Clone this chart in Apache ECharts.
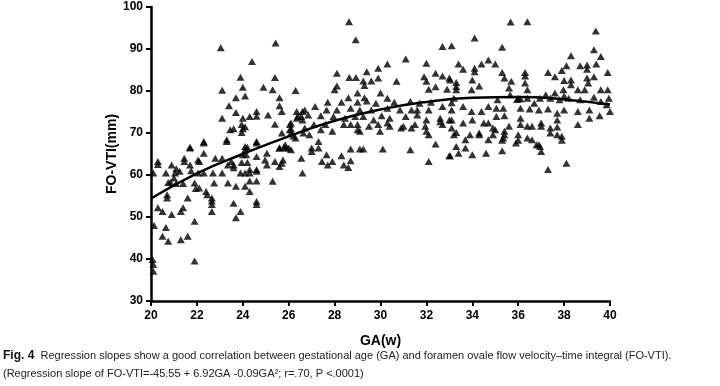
<!DOCTYPE html>
<html>
<head>
<meta charset="utf-8">
<script src="https://cdn.jsdelivr.net/npm/echarts@6/dist/echarts.min.js"></script>
<style>
html,body{margin:0;padding:0;background:#fff;}
#c{width:720px;height:386px;}
</style>
</head>
<body>
<div id="c"></div>
<script>
// Gestational age (weeks) of each observation
const gaX = [
20.1,20.3,20.3,20.13,20.07,20.1,20.1,20.3,20.5,20.5,20.65,20.75,20.65,20.7,20.7,20.9,20.9,20.75,20.85,21.05,21.1,21.25,21,21.1,21.3,21.4,21.3,21.6,21.45,21.45,21.4,21.6,21.7,21.7,21.75,21.9,21.9,21.9,21.95,22.05,22.1,22.05,22.1,22.3,22.3,22.3,22.4,22.45,22.65,22.65,22.65,22.65,22.7,22.75,22.8,23.1,23.1,23.3,23.35,23.35,23.5,23.6,23.6,23.6,23.7,23.9,23.7,23.9,23.95,24,24.1,24.1,24.1,24.1,24.15,24.2,24.3,24.3,24.3,24.3,24.6,24.6,24.6,24.6,24.6,24.6,24.6,24.97,25.05,25.05,25.3,25.4,25.6,25.7,25.75,25.9,26.1,26.55,26.6,27,27,27.3,27.3,27.45,27.65,27.7,
23.04,25.43,24.4,23.9,25.4,24,23.1,24.9,25.3,26.3,23.7,24.1,25.6,23.4,25.6,25.7,23.7,23.1,24.6,24.6,25.1,24,24.3,26.35,26.4,26.6,23.45,23.6,23.95,24,23.95,24.1,25.4,26.05,26.1,26.2,23.3,21.7,22.3,24.6,24.2,25.6,25.8,26,
28.63,28.92,32.7,33.1,31.1,30.3,32,28.1,29.9,29.4,28.64,28.93,29.25,29.6,29.9,30.7,32.4,32.7,33,31.9,32,28.1,28,29.3,32.1,32.4,32.9,29,30,28.6,29.3,30.3,28.3,27.7,29,29.4,29.8,30.6,31.3,31.7,32.2,32.7,27.15,26.7,27.65,28.1,28.7,29.1,29.6,30.3,30.85,31.35,31.6,32.1,33.1,26.85,27.4,27.95,28.45,28.9,29.25,29.7,30.05,30.4,31.1,31.6,32,32.6,33,26.6,27.1,27.6,28.4,29,29.5,29.9,30.3,31,31.5,31.95,32.7,26.7,27.4,27.9,29.1,29.98,30.9,31.35,32,33.1,
26.64,26.9,27.9,28.3,28.7,29.1,29.25,28.7,28.4,28.6,30.1,31.3,32.1,32.4,33,28.7,29,30.4,32.6,33.2,32.1,
35.67,36.4,39.38,34.1,35.3,39.3,38.3,39.6,34.7,33.4,34.4,35,33.6,34.1,34.1,35.3,36.3,37.3,37.9,38.1,38.7,39,39,39.4,39.9,33.03,34,34.3,35.4,35.7,36.3,36.3,37.6,38,38.3,38.3,39,39.3,39.05,33.3,33.3,33.3,33.97,35.6,36,36.4,36.4,37.2,37.6,37.97,38,38.2,38.6,38.7,38.9,39.6,39.9,39.95,39.6,39.3,39.85,37.8,37.4,36.95,36.7,36.1,35.95,35.65,35.1,33.2,33.1,33.6,33.97,34.4,34.7,35.05,35.35,35.4,35.05,36.1,36.5,36.9,37.3,37.7,38,38.6,39.1,39.1,39.55,40,37.7,37.7,38.6,33.1,33.6,34,34.5,34.7,34.9,35.6,36.1,36.1,36.6,37,37,37.4,33.3,33.9,34.3,34.9,35.4,36,36.4,37.7,
33.7,34.3,34.7,35,35.4,35.35,36.4,36.6,36.9,36.95,37,37.4,37.9,33.3,33.7,34,33.4,34.6,35.3,35.9,37.3,38.1,35.3,36,36.8,37.9,33.03,
25.6,26.55,26.35,26.1,26.05,25.7,26.1,26.3,25.85
];
// FO-VTI (mm) of each observation
const vtiY = [
60.5,63.2,62.5,48,39.9,38.7,37.1,52.2,51.3,45.4,47.5,44.2,60.5,55.3,54.5,62.4,50.6,58.2,58.3,60.5,61.5,60.9,59.3,58,51.3,52.2,44.6,45.4,64,63.2,58,54.5,66.6,62.4,61,49,39.5,58.1,56.8,63.6,63.2,60.5,56.9,68,65.2,60.5,56.1,55.3,54.5,53.8,53,51.3,60.5,58.1,64,64,60.5,68,62.4,58.1,63.2,62.4,61.7,53.3,49.8,51.3,57.3,60.5,63,64.8,66.8,66,60.5,57.3,64.8,63,61.3,60.5,58.6,56.1,68,64.4,61.3,60.9,58.6,53.7,53,63.6,65.2,62.4,58.5,63.2,66.4,62.8,63.6,66.4,66,64,60.5,65.6,66.4,68,66.4,63.2,64.8,62.4,
90.3,91.4,87,83.3,83.2,80.9,80.2,80.9,80.3,80.1,78.4,78.8,78.4,76.5,76.5,75.1,74.9,73.5,75.1,74,74.3,73.5,73.9,75.1,74,75.1,70.8,71,72,71,70.1,71.5,72.1,72,71,69.3,68.4,66.4,67.6,67.6,66.6,66.4,66.6,66.4,
96.5,92.2,90.6,90.8,87.6,86.4,86.6,84.2,85.4,84.6,83.2,83.2,82.4,82.4,83.1,82.3,84.2,83.6,83.1,83.4,82.3,81.2,80.3,81.3,80.4,81,80.4,79.5,79.5,78.4,78.4,78.3,77.3,77.3,77.3,77.6,77.1,77.3,77.5,77.1,77.3,76.3,76.3,75.5,75.5,75.5,75.9,75.5,75.5,75.9,75.5,75.5,75.5,75.5,75.5,74.3,74.1,73.9,73.5,73.9,73.9,73.1,74.1,73.5,73.9,74.3,73.1,73.5,73.1,73.1,72,72,72,72,71.6,72,72.4,71.6,72,71.6,72,71.2,70.8,70.4,70.4,70.4,71.2,71.2,70.4,71.2,
70,69.6,63.2,64.6,66.2,66.2,66.2,63.4,62.4,61.8,66.2,66,63.2,67.4,64.6,72,70.8,71.6,72.7,69.6,69.6,
96.4,96.5,94.3,92.6,90.4,89.8,88.4,88.2,87.4,86.4,86.4,86.4,85.2,85.4,84.6,84.4,84.4,84.4,84.9,86,86,86.2,85.2,86.4,84.4,82.6,82.6,81.2,83.1,82.3,83.6,81.9,83.4,82.5,82.6,81.5,83.1,83.4,81.9,82,81.1,80.3,80.3,80.7,78.3,80.3,78.3,79.1,79.5,80.3,78.8,78.3,80.3,77.9,80.3,80.3,80.3,78.3,77.5,78.5,76.7,77.9,78.3,78.3,77.1,78.1,78,79.1,77.9,78.3,77.2,76.3,75.1,75.1,76.3,75.9,75.9,74.1,73.9,75.9,75.7,75.5,75.7,74.7,75.5,75.1,75.5,73.5,74.1,75.1,73.1,71.4,72,73.1,72.4,73.1,72.4,72.4,71.2,71.6,73.5,72,71.6,72.4,71.6,71.2,70.1,69.6,69.6,69.6,69.6,69.6,68.8,69.6,
68.4,70,68.4,70.8,70.4,68.8,71.6,68.4,67.2,66.8,65.6,70,69.2,66.8,66.4,64.8,65.2,65.2,65.8,67.6,61.3,62.8,68.3,68.3,67.2,68.3,64.6,
62,73.9,73.5,72.4,70.8,70,70,68.8,67.2
];
// Regression curve
const curveX = [20,22,24,26,28,30,32,34,36,38,40];
const curveY = [54.4,60.4,65.0,69.2,72.9,75.6,77.4,78.4,78.6,78.0,76.8];
// Axis ticks
const xTicks = {min:20, max:40, interval:2};
const yTicks = {min:30, max:100, interval:10};

const captionLine1 = 'Regression slopes show a good correlation between gestational age (GA) and foramen ovale flow velocity\u2013time integral (FO-VTI).';
const captionLine2 = '(Regression slope of FO-VTI=-45.55 + 6.92GA -0.09GA\u00B2; r=.70, P <.0001)';

const pts = gaX.map((x,i)=>[x, vtiY[i]]);
const curve = curveX.map((x,i)=>[x, curveY[i]]);

const chart = echarts.init(document.getElementById('c'), null, {renderer:'canvas'});
const axisCommon = {
  axisLine:{show:true, lineStyle:{color:'#000', width:2.5}},
  axisTick:{show:true, inside:false, length:5, lineStyle:{color:'#000', width:2}},
  splitLine:{show:false},
  axisLabel:{color:'#000', fontWeight:'bold', fontSize:12, fontFamily:'Liberation Sans, Arial, sans-serif'},
  nameTextStyle:{color:'#000', fontWeight:'bold', fontSize:14, fontFamily:'Liberation Sans, Arial, sans-serif'}
};
chart.setOption({
  animation:false,
  backgroundColor:'#fff',
  grid:{left:151, right:110, top:7, bottom:85, containLabel:false},
  xAxis:Object.assign({}, axisCommon, {
    type:'value', min:xTicks.min, max:xTicks.max, interval:xTicks.interval,
    name:'GA(w)', nameLocation:'middle', nameGap:33, nameMoveOverlap:false,
    axisLabel:Object.assign({}, axisCommon.axisLabel, {margin:9})
  }),
  yAxis:Object.assign({}, axisCommon, {
    type:'value', min:yTicks.min, max:yTicks.max, interval:yTicks.interval,
    name:'FO-VTI(mm)', nameLocation:'middle', nameGap:32, nameRotate:90, nameMoveOverlap:false,
    axisLabel:Object.assign({}, axisCommon.axisLabel, {margin:8})
  }),
  series:[
    {type:'scatter', data:pts, symbol:'triangle', symbolSize:[8,7],
     itemStyle:{color:'#000'}, z:2},
    {type:'line', data:curve, smooth:true, showSymbol:false, symbol:'none',
     lineStyle:{color:'#000', width:2.5}, z:3}
  ],
  graphic:[
    {type:'text', left:3, top:350, style:{
      text:'{b|Fig. 4}  ' + captionLine1,
      font:'11px "Liberation Sans Narrow", "Arial Narrow", sans-serif', fill:'#222',
      rich:{b:{fontWeight:'bold', fontSize:12, fontFamily:'"Liberation Sans Narrow", "Arial Narrow", sans-serif', fill:'#111'}}
    }},
    {type:'text', left:3, top:368, style:{
      text:captionLine2,
      font:'11px "Liberation Sans Narrow", "Arial Narrow", sans-serif', fill:'#222'
    }}
  ]
});
</script>
</body>
</html>
